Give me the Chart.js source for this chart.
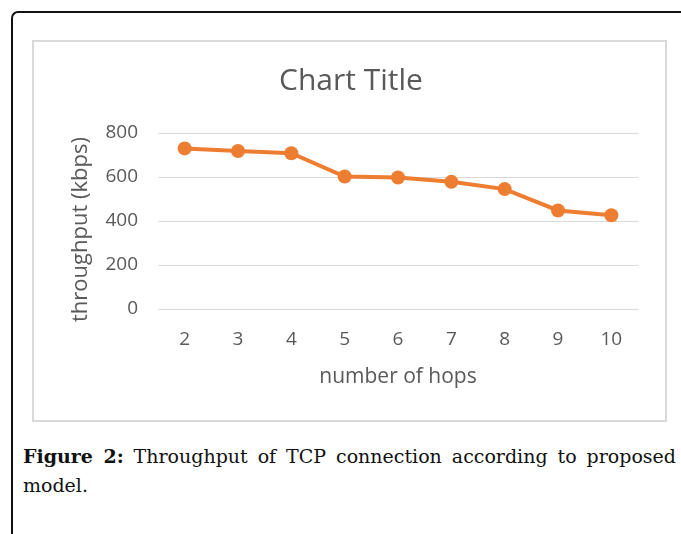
<!DOCTYPE html>
<html>
<head>
<meta charset="utf-8">
<script src="https://cdn.jsdelivr.net/npm/chart.js@4"></script>
<style>
  html, body { margin: 0; padding: 0; background: #fff; width: 681px; height: 534px; overflow: hidden; }
  #outer { position: absolute; left: 11px; top: 11px; width: 700px; height: 560px;
           border-left: 2px solid #111; border-top: 2px solid #111; border-top-left-radius: 7px; }
  #frame { position: absolute; left: 32px; top: 40px; width: 631px; height: 378px;
           border: 2px solid #d9d9d9; background: #fff; }
  #frame canvas { display: block; }
  .cap { position: absolute; left: 23px; width: 653px; font-family: "DejaVu Serif", serif;
         font-size: 19px; color: #111; white-space: nowrap; }
  #cap1 { top: 445px; text-align: justify; text-align-last: justify; white-space: normal; }
  #cap2 { top: 474px; }
</style>
</head>
<body>
<div id="outer"></div>
<div id="frame"><canvas id="c" width="631" height="378"></canvas></div>
<div class="cap" id="cap1"><b>Figure 2:</b> Throughput of TCP connection according to proposed</div>
<div class="cap" id="cap2">model.</div>
<script>
const hops = ['2', '3', '4', '5', '6', '7', '8', '9', '10'];
const throughput = [730, 718, 708, 602, 598, 578, 545, 448, 426];
const yTicks = [0, 200, 400, 600, 800];
const chartTitle = 'Chart Title';
const xTitle = 'number of hops';
const yTitle = 'throughput (kbps)';

const txt = '#595959';
new Chart(document.getElementById('c'), {
  type: 'line',
  data: {
    labels: hops,
    datasets: [{
      label: 'throughput',
      data: throughput,
      borderColor: '#ED7D31',
      backgroundColor: '#ED7D31',
      borderWidth: 4,
      pointRadius: 7,
      pointBorderWidth: 0,
      tension: 0
    }]
  },
  options: {
    responsive: false,
    animation: false,
    layout: { padding: { left: 30, right: 27, top: 0, bottom: 30 } },
    plugins: {
      legend: { display: false },
      tooltip: { enabled: false },
      title: {
        display: true, text: chartTitle, color: txt,
        font: { family: 'Open Sans', size: 30, weight: 'normal' },
        padding: { top: 21, bottom: 34 }
      }
    },
    scales: {
      x: {
        offset: true,
        grid: { display: false, drawTicks: false },
        border: { display: false },
        ticks: { color: txt, font: { family: 'Open Sans', size: 19 }, padding: 19, maxRotation: 0 },
        title: { display: true, text: xTitle, color: txt, font: { family: 'Open Sans', size: 21 }, padding: { top: 0, bottom: 0 } },
        afterFit: s => { s.height = 81; }
      },
      y: {
        min: 0, max: 800,
        afterBuildTicks: s => { s.ticks = yTicks.map(v => ({ value: v })); },
        grid: { color: '#d9d9d9', lineWidth: 1, drawTicks: false },
        border: { display: false },
        ticks: { color: txt, font: { family: 'Open Sans', size: 19 }, padding: 20 },
        title: { display: true, text: yTitle + '   ', color: txt, font: { family: 'Open Sans', size: 22 }, padding: { top: 4, bottom: 0 } },
        afterFit: s => { s.width = 94; }
      }
    }
  }
});
</script>
</body>
</html>
